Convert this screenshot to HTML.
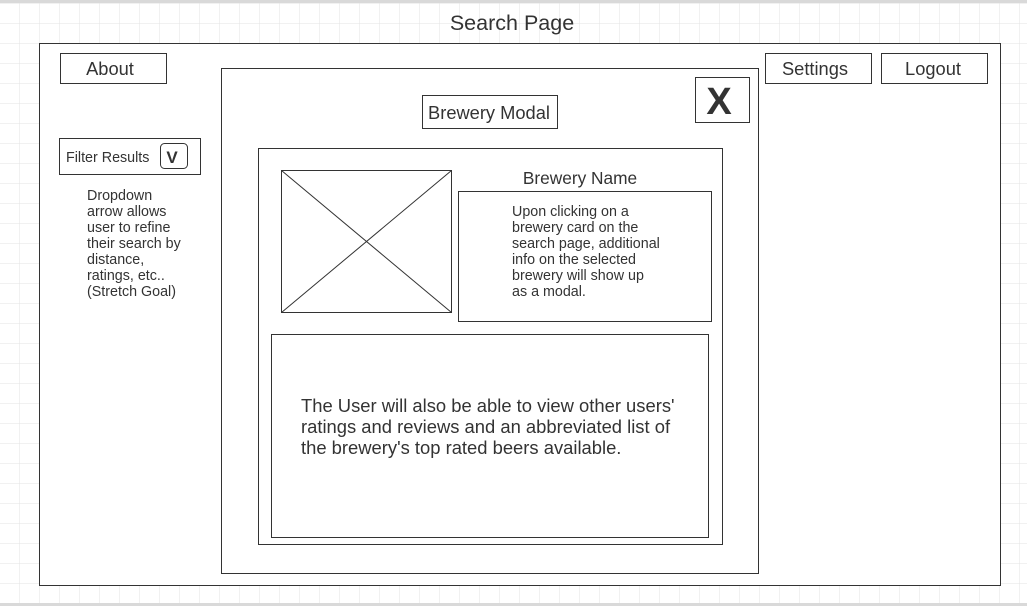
<!DOCTYPE html>
<html><head><meta charset="utf-8"><style>
html,body{margin:0;padding:0;background:#fff;}
svg{display:block;font-family:"Liberation Sans",sans-serif;}
</style></head><body>
<svg width="1027" height="606" viewBox="0 0 1027 606" xmlns="http://www.w3.org/2000/svg">
<defs>
<pattern id="g" x="0" y="3" width="20" height="20" patternUnits="userSpaceOnUse">
<path d="M20 0V20M0 0H20" stroke="#e3e3e3" stroke-width="1" fill="none"/>
</pattern>
</defs>
<rect width="1027" height="606" fill="#fff"/>
<rect x="0" y="3" width="1027" height="600" fill="url(#g)"/>
<rect x="0" y="0" width="1027" height="3" fill="#d9d9d9"/>
<rect x="0" y="603" width="1027" height="3" fill="#d9d9d9"/>
<g fill="#fff" stroke="#333" stroke-width="1">
<rect x="39.5" y="43.5" width="961" height="542"/>
<rect x="60.5" y="53.5" width="106" height="30"/>
<rect x="765.5" y="53.5" width="106" height="30"/>
<rect x="881.5" y="53.5" width="106" height="30"/>
<rect x="59.5" y="138.5" width="141" height="36"/>
<rect x="160.5" y="143.5" width="27" height="25" rx="4"/>
<rect x="221.5" y="68.5" width="537" height="505"/>
<rect x="695.5" y="77.5" width="54" height="45"/>
<rect x="422.5" y="95.5" width="135" height="33"/>
<rect x="258.5" y="148.5" width="464" height="396"/>
<rect x="281.5" y="170.5" width="170" height="142"/>
<rect x="458.5" y="191.5" width="253" height="130"/>
<rect x="271.5" y="334.5" width="437" height="203"/>
</g>
<path d="M281.5 170.5L451.5 312.5M451.5 170.5L281.5 312.5" stroke="#333" stroke-width="1"/>
<g fill="#333">
<text x="512" y="30" font-size="21.5" text-anchor="middle">Search Page</text>
<text x="110" y="75" font-size="18.3" text-anchor="middle">About</text>
<text x="815" y="75" font-size="18.3" text-anchor="middle">Settings</text>
<text x="933" y="75" font-size="18.3" text-anchor="middle">Logout</text>
<text x="66" y="162" font-size="14.3">Filter Results</text>
<text x="172" y="163" font-size="17" font-weight="bold" text-anchor="middle">V</text>
<text x="719" y="114" font-size="38" font-weight="bold" text-anchor="middle">X</text>
<text x="489" y="119" font-size="18.3" text-anchor="middle">Brewery Modal</text>
<text x="580" y="184" font-size="17.3" text-anchor="middle">Brewery Name</text>
<g font-size="14.3">
<text x="87" y="200">Dropdown</text>
<text x="87" y="216">arrow allows</text>
<text x="87" y="232">user to refine</text>
<text x="87" y="248">their search by</text>
<text x="87" y="264">distance,</text>
<text x="87" y="280">ratings, etc..</text>
<text x="87" y="296">(Stretch Goal)</text>
<text x="512" y="216">Upon clicking on a</text>
<text x="512" y="232">brewery card on the</text>
<text x="512" y="248">search page, additional</text>
<text x="512" y="264">info on the selected</text>
<text x="512" y="280">brewery will show up</text>
<text x="512" y="296">as a modal.</text>
</g>
<g font-size="18.4">
<text x="301" y="412">The User will also be able to view other users'</text>
<text x="301" y="433">ratings and reviews and an abbreviated list of</text>
<text x="301" y="454">the brewery's top rated beers available.</text>
</g>
</g>
</svg>
</body></html>
